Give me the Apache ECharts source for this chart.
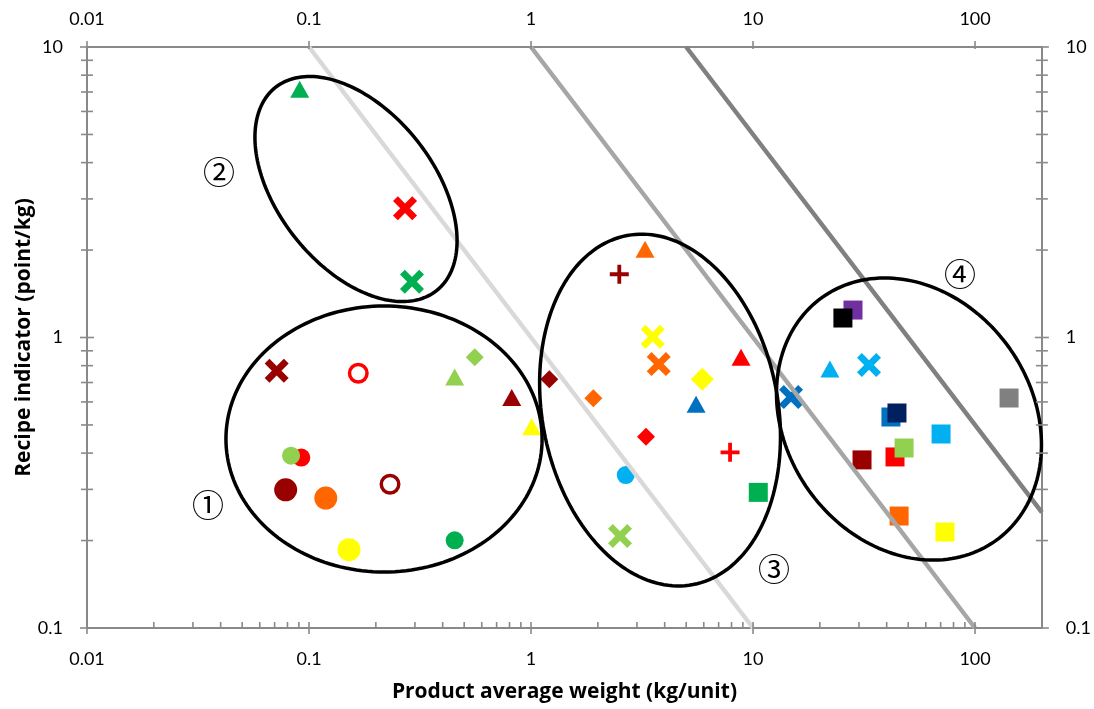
<!DOCTYPE html>
<html><head><meta charset="utf-8">
<script src="https://cdn.jsdelivr.net/npm/echarts@6/dist/echarts.min.js"></script>
<style>html,body{margin:0;padding:0;background:#fff}#c{width:1094px;height:709px}</style>
</head><body><div id="c"></div>
<script>
// ---- axis ticks ----
const xMajorTicks = [0.01, 0.1, 1, 10, 100];
const xTickLabels = ['0.01', '0.1', '1', '10', '100'];
const xMinorTicks = [0.02,0.03,0.04,0.05,0.06,0.07,0.08,0.09,
                     0.2,0.3,0.4,0.5,0.6,0.7,0.8,0.9,
                     2,3,4,5,6,7,8,9,
                     20,30,40,50,60,70,80,90];
const yMajorTicks = [0.1, 1, 10];
const yTickLabels = ['0.1', '1', '10'];
const yMinorTicks = [0.2,0.3,0.4,0.5,0.6,0.7,0.8,0.9, 2,3,4,5,6,7,8,9];

// ---- data: [product average weight (kg/unit), recipe indicator (point/kg)] ----
const bigCirclePts   = [[0.0785,0.299],[0.119,0.280],[0.1514,0.186]];
const smallCirclePts = [[0.0923,0.386],[0.0830,0.392],[0.453,0.2003],[2.671,0.336]];
const openCirclePts  = [[0.1667,0.753],[0.2317,0.3124]];
const trianglePts    = [[0.453,0.731],[0.819,0.622],[1.007,0.493],[0.0908,7.15],[3.263,2.012],[8.83,0.855],[5.54,0.589],[22.2,0.779]];
const diamondPts     = [[0.558,0.855],[1.209,0.718],[1.909,0.618],[3.296,0.4556]];
const bigDiamondPts  = [[5.91,0.718]];
const crossPts       = [[0.0715,0.768],[0.2707,2.785],[0.291,1.556],[3.534,1.006],[3.761,0.810],[2.517,0.2073],[33.3,0.804],[14.83,0.624]];
const plusPts        = [[2.498,1.651],[7.88,0.4025]];
const squarePts      = [[10.56,0.293],[28.2,1.243],[25.4,1.167],[41.8,0.5325],[44.5,0.5497],[70.3,0.4654],[142.3,0.619],[30.97,0.379],[43.6,0.388],[47.9,0.4165],[45.5,0.2429],[73.2,0.214]];

// iso-product lines (weight x indicator = const)
const isoLine1  = [[0.1,10],[10,0.1]];
const isoLine10 = [[1,10],[100,0.1]];
const isoLine50 = [[5,10],[200,0.25]];

// group ellipses: [centre x, centre y]
const ellipseCentres = [[0.2177,0.4473],[0.1628,3.244],[3.812,0.5627],[50.4,0.524]];
const groupLabels = ['①','②','③','④'];
const groupLabelPts = [[0.0351,0.265],[0.0393,3.712],[12.43,0.1596],[85.6,1.654]];

// ---- styles ----
const C = {dr:'#990000', r:'#FF0000', o:'#FF6600', y:'#FFFF00', lg:'#92D050', g:'#00B050',
           lb:'#00B0F0', b:'#0070C0', nv:'#002060', p:'#7030A0', k:'#000000', gr:'#808080'};
const bigCircleColors   = [C.dr, C.o, C.y];
const smallCircleColors = [C.r, C.lg, C.g, C.lb];
const openCircleColors  = [C.r, C.dr];
const triangleColors    = [C.lg, C.dr, C.y, C.g, C.o, C.r, C.b, C.lb];
const diamondColors     = [C.lg, C.dr, C.o, C.r];
const bigDiamondColors  = [C.y];
const crossColors       = [C.dr, C.r, C.g, C.y, C.o, C.lg, C.lb, C.b];
const plusColors        = [C.dr, C.r];
const squareColors      = [C.g, C.p, C.k, C.b, C.nv, C.lb, C.gr, C.dr, C.r, C.lg, C.o, C.y];
// ellipse shape: semi-axes (in x-decade units) and screen rotation (deg)
const ellipseShape = [[0.712,0.599,0],[0.584,0.351,51.6],[0.800,0.531,79.3],[0.673,0.554,54.5]];

const CROSS = 'path://M2,0 L5,3 L8,0 L10,2 L7,5 L10,8 L8,10 L5,7 L2,10 L0,8 L3,5 L0,2 Z';
const PLUS = 'path://M4,0 L6,0 L6,4 L10,4 L10,6 L6,6 L6,10 L4,10 L4,6 L0,6 L0,4 L4,4 Z';
const AXC = '#898989';
const FONT = 'Lato';
const TFONT = 'Open Sans';

function mk(pts, colors, hollow) {
  return pts.map((p, i) => ({
    value: p,
    itemStyle: hollow ? {color: '#fff', borderColor: colors[i], borderWidth: 3.5, opacity: 1}
                      : {color: colors[i], opacity: 1}
  }));
}
function scat(pts, colors, symbol, size, hollow) {
  return {type: 'scatter', xAxisIndex: 0, yAxisIndex: 0, symbol: symbol, symbolSize: size,
          itemStyle: {opacity: 1}, data: mk(pts, colors, hollow), z: 2, silent: true};
}
function labelFmt(ticks, labels) {
  return function (v) {
    for (let i = 0; i < ticks.length; i++) {
      if (Math.abs(Math.log10(v) - Math.log10(ticks[i])) < 1e-6) return labels[i];
    }
    return '';
  };
}

// tick data: [x, y, kind]
const tickData = [];
xMajorTicks.forEach(v => { tickData.push([v, 0.1, 0]); tickData.push([v, 10, 2]); });
xMinorTicks.forEach(v => tickData.push([v, 0.1, 1]));
yMajorTicks.forEach(v => { tickData.push([0.01, v, 3]); tickData.push([200, v, 5]); });
yMinorTicks.forEach(v => { tickData.push([0.01, v, 4]); tickData.push([200, v, 6]); });

function renderTick(params, api) {
  const p = api.coord([api.value(0), api.value(1)]);
  const k = api.value(2);
  let s;
  if (k === 0) s = {x1: p[0], y1: p[1] - 6, x2: p[0], y2: p[1] + 6};
  else if (k === 1) s = {x1: p[0], y1: p[1] - 6, x2: p[0], y2: p[1]};
  else if (k === 2) s = {x1: p[0], y1: p[1] - 6, x2: p[0], y2: p[1] + 2};
  else if (k === 3 || k === 5) s = {x1: p[0] - 7, y1: p[1], x2: p[0] + 7, y2: p[1]};
  else s = {x1: p[0] - 6, y1: p[1], x2: p[0] + 6, y2: p[1]};
  return {type: 'line', shape: s, style: {stroke: AXC, lineWidth: 1.6}};
}

const ellipseData = ellipseCentres.map((c, i) => c.concat(ellipseShape[i]));
function renderEllipse(params, api) {
  const cx = api.value(0), cy = api.value(1);
  const a = api.value(2), b = api.value(3), ang = api.value(4) * Math.PI / 180;
  const c0 = api.coord([cx, cy]);
  const dec = c0[0] - api.coord([cx / 10, cy])[0];
  const A = a * dec, B = b * dec;
  const pts = [];
  const n = 180;
  for (let i = 0; i < n; i++) {
    const t = i / n * 2 * Math.PI;
    const ex = A * Math.cos(t), ey = B * Math.sin(t);
    pts.push([c0[0] + ex * Math.cos(ang) - ey * Math.sin(ang),
              c0[1] + ex * Math.sin(ang) + ey * Math.cos(ang)]);
  }
  return {type: 'polygon', shape: {points: pts}, style: {fill: 'none', stroke: '#000', lineWidth: 3.5}};
}

function isoSeries(data, color) {
  return {type: 'line', xAxisIndex: 0, yAxisIndex: 0, data: data, symbol: 'none', z: 3, silent: true,
          lineStyle: {color: color, width: 4.5, opacity: 1}, clip: true};
}

const axisCommonX = {
  type: 'log', logBase: 10, min: 0.01, max: 200,
  axisLine: {show: true, onZero: false, lineStyle: {color: AXC, width: 2}},
  axisTick: {show: false}, minorTick: {show: false},
  splitLine: {show: false}, minorSplitLine: {show: false},
  axisLabel: {formatter: labelFmt(xMajorTicks, xTickLabels), color: '#000', fontSize: 18, fontFamily: FONT,
              showMinLabel: true, showMaxLabel: true, hideOverlap: false}
};
const axisCommonY = {
  type: 'log', logBase: 10, min: 0.1, max: 10,
  axisLine: {show: true, onZero: false, lineStyle: {color: AXC, width: 2}},
  axisTick: {show: false}, minorTick: {show: false},
  splitLine: {show: false}, minorSplitLine: {show: false},
  axisLabel: {formatter: labelFmt(yMajorTicks, yTickLabels), color: '#000', fontSize: 18, fontFamily: FONT,
              showMinLabel: true, showMaxLabel: true, hideOverlap: false}
};

const chart = echarts.init(document.getElementById('c'), null, {renderer: 'canvas'});
chart.setOption({
  animation: false,
  backgroundColor: '#fff',
  grid: {left: 87, right: 51, top: 47, bottom: 81, containLabel: false},
  xAxis: [
    Object.assign({}, axisCommonX, {position: 'bottom',
      name: 'Product average weight (kg/unit)', nameLocation: 'middle', nameGap: 54,
      nameTextStyle: {fontSize: 21, fontWeight: 'bold', color: '#000', fontFamily: TFONT},
      axisLabel: Object.assign({}, axisCommonX.axisLabel, {margin: 22})}),
    Object.assign({}, axisCommonX, {position: 'top',
      axisLabel: Object.assign({}, axisCommonX.axisLabel, {margin: 19})})
  ],
  yAxis: [
    Object.assign({}, axisCommonY, {position: 'left',
      name: 'Recipe indicator (point/kg)', nameLocation: 'middle', nameGap: 52, nameRotate: 90,
      nameMoveOverlap: false,
      nameTextStyle: {fontSize: 21, fontWeight: 'bold', color: '#000', fontFamily: TFONT},
      axisLabel: Object.assign({}, axisCommonY.axisLabel, {margin: 24})}),
    Object.assign({}, axisCommonY, {position: 'right',
      axisLabel: Object.assign({}, axisCommonY.axisLabel, {margin: 24})})
  ],
  series: [
    scat(squarePts, squareColors, 'rect', 19),
    scat(bigCirclePts, bigCircleColors, 'circle', 23),
    scat(smallCirclePts, smallCircleColors, 'circle', 18),
    scat(openCirclePts, openCircleColors, 'circle', 17.5, true),
    scat(trianglePts, triangleColors, 'triangle', [19, 17]),
    scat(diamondPts, diamondColors, 'diamond', 18),
    scat(bigDiamondPts, bigDiamondColors, 'diamond', 23),
    scat(crossPts, crossColors, CROSS, 24),
    scat(plusPts, plusColors, PLUS, 19),
    isoSeries(isoLine1, '#D9D9D9'),
    isoSeries(isoLine10, '#A6A6A6'),
    isoSeries(isoLine50, '#808080'),
    {type: 'custom', xAxisIndex: 0, yAxisIndex: 0, renderItem: renderEllipse, data: ellipseData,
     encode: {x: 0, y: 1}, z: 4, silent: true, clip: false},
    {type: 'scatter', xAxisIndex: 0, yAxisIndex: 0, symbolSize: 2, z: 5, silent: true,
     itemStyle: {color: 'rgba(0,0,0,0)', opacity: 1},
     data: groupLabelPts.map((p, i) => ({value: p, name: groupLabels[i]})),
     label: {show: true, position: 'inside', formatter: '{b}', fontSize: 32, color: '#000',
             fontFamily: 'Noto Sans CJK JP'}},
    {type: 'custom', xAxisIndex: 0, yAxisIndex: 0, renderItem: renderTick, data: tickData,
     encode: {x: 0, y: 1}, z: 6, silent: true, clip: false}
  ]
});
</script>
</body></html>
